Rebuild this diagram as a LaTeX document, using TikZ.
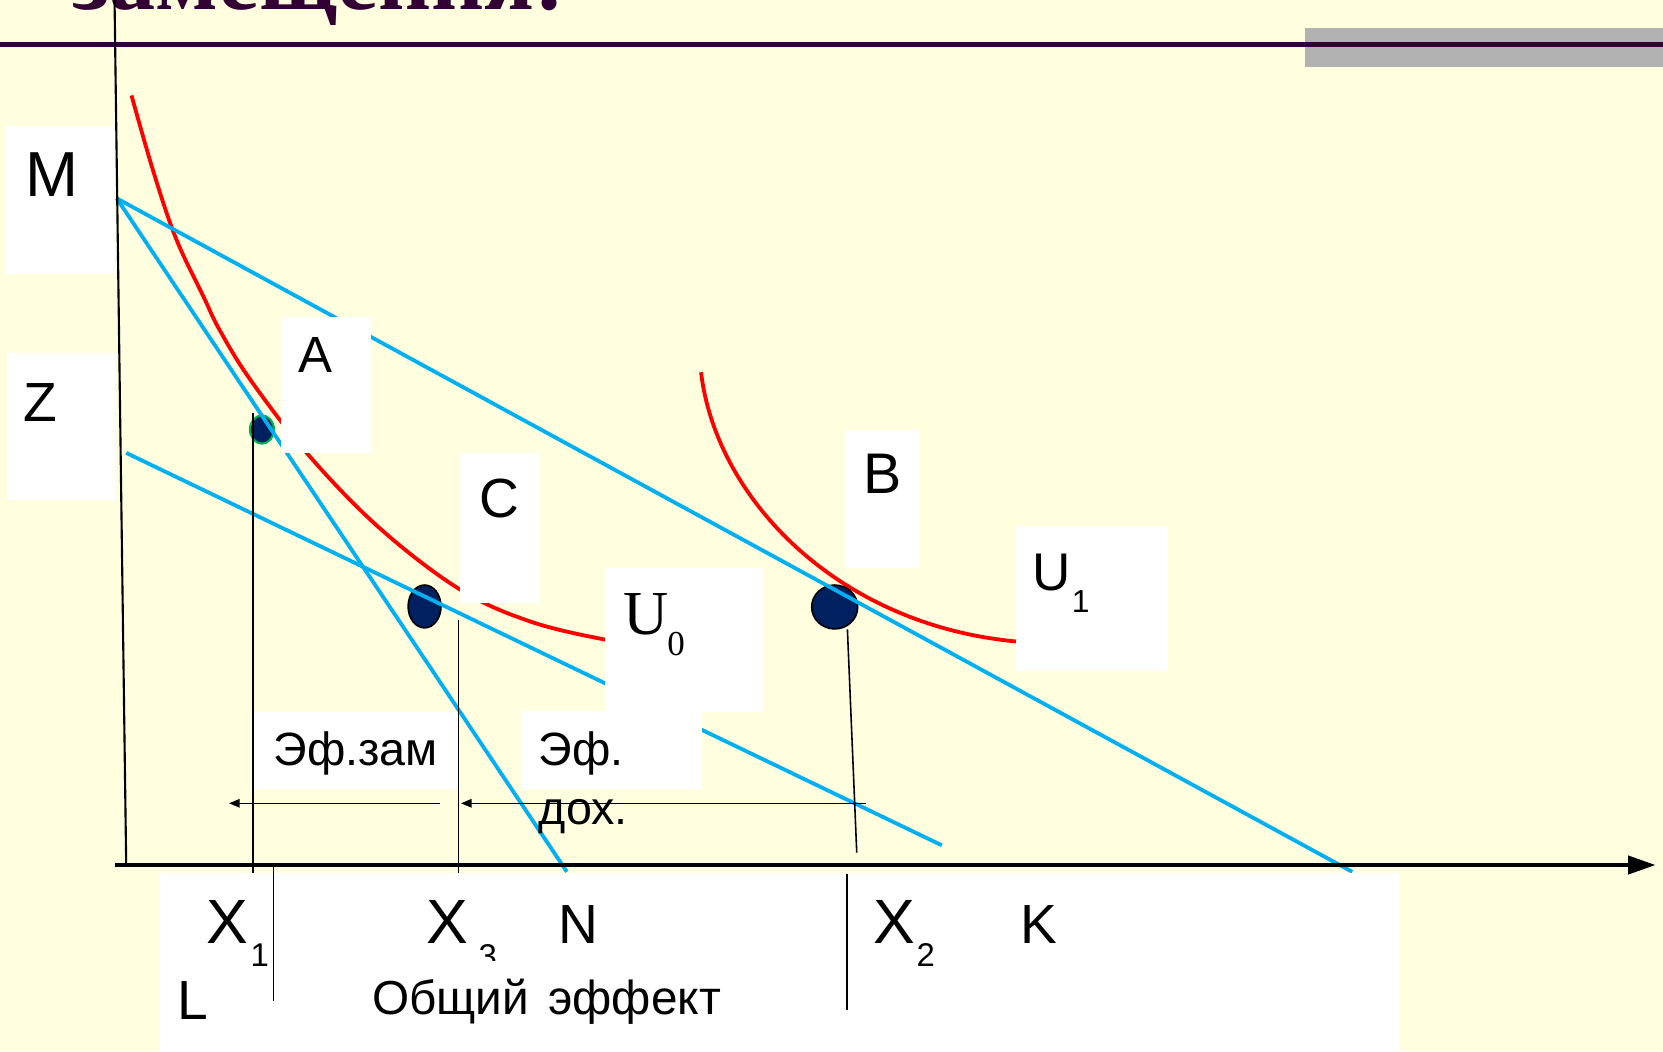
\documentclass[tikz,border=0pt]{standalone}
\usepackage{fontspec}
\setmainfont{Liberation Sans}
\newfontfamily\serifU{Liberation Serif}
\newfontfamily\titlefont{Liberation Serif}
\usetikzlibrary{arrows.meta,shapes.geometric}
\definecolor{bg}{HTML}{FFFFE0}
\definecolor{skyline}{HTML}{00B0F0}
\definecolor{navy}{HTML}{002060}
\definecolor{dotgreen}{HTML}{00B050}
\definecolor{plum}{HTML}{330033}
\definecolor{grayband}{HTML}{B2B2B2}
\newcommand\setfs[1]{\fontsize{#1}{#1}\selectfont}
\begin{document}
\begin{tikzpicture}[x=1pt,y=-1pt,
  lbl/.style={inner sep=0pt, anchor=base},
  whitebox/.style={fill=white},
  budget/.style={skyline, line width=3.6pt},
  indiff/.style={red, line width=3.6pt},
  dropline/.style={black, line width=1.5pt},
  effarrow/.style={black, line width=1.5pt, -{Triangle[length=10pt,width=8pt]}},
  dotnode/.style={ellipse, fill=navy, inner sep=0pt}]
\useasboundingbox (0,0) rectangle (1568,991);
\clip (0,0) rectangle (1568,991);
\fill[bg] (0,0) rectangle (1568,991);

% title remnant and header
\node[anchor=base west, inner sep=0pt, text=plum, font=\titlefont\bfseries\setfs{87}] (title) at (68,8.5) {замещения:};
\fill[grayband] (1230,26.4) rectangle (1568,63.2);
\draw[plum, line width=4pt] (0,42) -- (1568,42);

% indifference curves
\draw[indiff] plot[smooth, tension=0.6] coordinates {(124,90) (145,163) (166,225) (192,280) (207,311) (236,358) (290,428) (358,498) (434,556) (500,586) (570,603) (600,606)};
\draw[indiff] (661,351) .. controls (675,470) and (790,590) .. (960,605);

% points
\node[dotnode, draw=dotgreen, line width=2pt, minimum width=22.6pt, minimum height=26.6pt] (pA) at (247,405) {};
\node[dotnode, draw=black, line width=1.5pt, minimum width=31pt, minimum height=40.4pt] (pC) at (400.3,571.8) {};
\node[dotnode, draw=black, line width=1.5pt, minimum width=43.4pt, minimum height=41.4pt] (pB) at (787,572.3) {};

% budget lines
\coordinate (M) at (110,187);
\coordinate (K) at (1275,822);
\coordinate (N) at (534.5,822);
\coordinate (Zs) at (119,427);
\coordinate (Ze) at (888,797);
\draw[budget] (M) -- (K);
\draw[budget] (M) -- (N);
\draw[budget] (Zs) -- (Ze);

% white label boxes
\fill[whitebox] (6,119) rectangle (108,258);
\fill[whitebox] (7,333) rectangle (108,471);
\fill[whitebox] (265,299) rectangle (350,427);
\fill[whitebox] (434,427) rectangle (509,569);
\fill[whitebox] (797,405) rectangle (867,536);
\fill[whitebox] (958,496) rectangle (1101,633);
\fill[whitebox] (570,536) rectangle (719,671);
\fill[whitebox] (492,670) rectangle (662,744);
\fill[whitebox] (238,671) rectangle (433,744);
\fill[whitebox] (151,823) rectangle (1319,991);

% axes
\draw[black, line width=2pt] (108,0) -- (119,816);
\draw[black, line width=4pt, -{Triangle[length=26pt,width=17pt]}] (108,815.6) -- (1561,815.6);

% drop lines
\coordinate (dA1) at (238.5,389.5); \coordinate (dA2) at (238.5,823);
\coordinate (dC1) at (432.3,585); \coordinate (dC2) at (432.3,823);
\coordinate (dB1) at (799,593.4); \coordinate (dB2) at (807.8,804);
\draw[dropline] (dA1) -- (dA2);
\draw[dropline] (dC1) -- (dC2);
\draw[dropline] (dB1) -- (dB2);
\draw[dropline] (258,817) -- (258,944);
\draw[dropline] (798.4,824) -- (798.4,952);

% effect arrows
\coordinate (a1s) at (414.4,757.4); \coordinate (a1e) at (216,757.4);
\coordinate (a2s) at (816.5,757.4); \coordinate (a2e) at (434.7,757.4);
\draw[effarrow] (a1s) -- (a1e);
\draw[effarrow] (a2s) -- (a2e);

% labels
\node[lbl, font=\setfs{60}] (lM) at (49.5,184.8) {M};
\node[lbl, font=\setfs{52}] (lZ) at (38.5,397.6) {Z};
\node[lbl, font=\setfs{48}] (lA) at (297,351.4) {A};
\node[lbl, font=\setfs{52}] (lC) at (470.6,487.5) {C};
\node[lbl, font=\setfs{54}] (lB) at (832,465.1) {B};
\node[lbl, font=\setfs{50}] (lU1) at (992,557) {U};
\node[lbl, font=\setfs{30}] (lU1s) at (1019,577.5) {1};
\node[lbl, font=\serifU\setfs{59}] (lU0) at (609.5,598.7) {U};
\node[lbl, font=\serifU\setfs{33}] (lU0s) at (637.5,618.5) {0};
\node[lbl, font=\setfs{59}] (lX1) at (214.3,889.4) {X};
\node[lbl, font=\setfs{31}] (lX1s) at (245,911.4) {1};
\node[lbl, font=\setfs{52}] (lL) at (182,961.7) {L};
\node[lbl, font=\setfs{59}] (lX3) at (421.5,889.4) {X};
\begin{scope}
\clip (440,880) rectangle (480,905.5);
\node[lbl, font=\setfs{31}] (lX3s) at (460,912) {3};
\end{scope}
\node[lbl, font=\setfs{52}] (lN) at (545,889.4) {N};
\node[lbl, font=\setfs{59}] (lX2) at (843,889.4) {X};
\node[lbl, font=\setfs{31}] (lX2s) at (872.8,911.4) {2};
\node[lbl, font=\setfs{52}] (lK) at (980,889.4) {K};
\node[lbl, font=\setfs{45}] (ltot) at (515.2,957) {Общий\hspace{0.12em} эффект};
\node[lbl, font=\setfs{44}] (lsub) at (335.4,721.3) {Эф.зам};
\node[lbl, anchor=base west, font=\setfs{44}] (linc1) at (508,721.3) {Эф.};
\node[lbl, anchor=base west, font=\setfs{44}] (linc2) at (508,777) {дох.};
\end{tikzpicture}
\end{document}
